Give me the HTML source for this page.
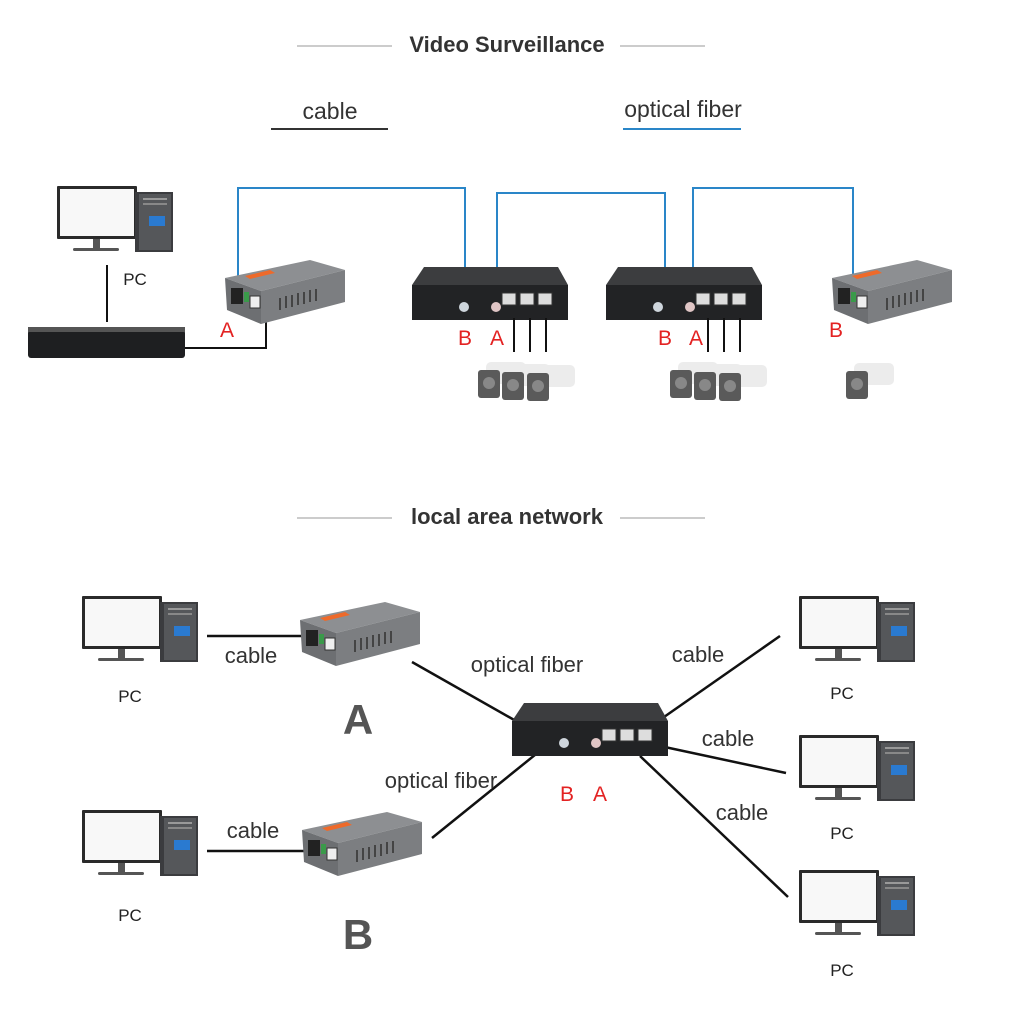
<!DOCTYPE html>
<html><head><meta charset="utf-8"><style>
html,body{margin:0;padding:0;background:#fff}
svg{display:block}
text{font-family:"Liberation Sans",Arial,sans-serif}
</style></head><body>
<svg width="1010" height="1010" viewBox="0 0 1010 1010" xmlns="http://www.w3.org/2000/svg">
<defs>
<g id="pc">
  <rect x="2" y="0" width="80" height="53" rx="1" fill="#2a2a2a"/>
  <rect x="5" y="3" width="74" height="47" fill="#f8f8f8"/>
  <rect x="38" y="53" width="7" height="10" fill="#555"/>
  <rect x="18" y="62" width="46" height="3" rx="1.5" fill="#555"/>
  <rect x="80" y="6" width="38" height="60" fill="#3b3c3f"/>
  <rect x="84" y="8" width="32" height="56" fill="#55575a"/>
  <rect x="94" y="30" width="16" height="10" fill="#2a7ad0"/>
  <rect x="88" y="12" width="24" height="2" fill="#999"/>
  <rect x="88" y="17" width="24" height="2" fill="#888"/>
</g>
<g id="conv">
  <polygon points="0,20 85,2 120,12 36,33" fill="#8d8f92"/>
  <polygon points="20,18 45,12 50,15 25,21" fill="#ee6a2a"/>
  <polygon points="0,20 36,33 36,66 2,52" fill="#6d6f72"/>
  <polygon points="36,33 120,12 120,44 36,66" fill="#7c7e81"/>
  <rect x="6" y="30" width="12" height="16" fill="#222"/>
  <rect x="19" y="34" width="5" height="10" fill="#3a9a4a"/>
  <rect x="25" y="38" width="10" height="12" fill="#eee" stroke="#333"/>
  <g stroke="#444" stroke-width="2">
    <line x1="55" y1="40" x2="55" y2="52"/><line x1="61" y1="38" x2="61" y2="50"/><line x1="67" y1="37" x2="67" y2="49"/><line x1="73" y1="35" x2="73" y2="47"/><line x1="79" y1="34" x2="79" y2="46"/><line x1="85" y1="32" x2="85" y2="44"/><line x1="91" y1="31" x2="91" y2="43"/>
  </g>
</g>
<g id="sw">
  <polygon points="12,0 146,0 156,18 0,18" fill="#3c3d3f"/>
  <rect x="0" y="18" width="156" height="35" fill="#222325"/>
  <rect x="90" y="26" width="14" height="12" fill="#ddd" stroke="#333"/>
  <rect x="108" y="26" width="14" height="12" fill="#ddd" stroke="#333"/>
  <rect x="126" y="26" width="14" height="12" fill="#ddd" stroke="#333"/>
  <circle cx="52" cy="40" r="5" fill="#cfd6dd"/>
  <circle cx="84" cy="40" r="5" fill="#e0c6c6"/>
</g>
<g id="cam">
  <rect x="8" y="0" width="40" height="22" rx="5" fill="#ececec"/>
  <rect x="0" y="8" width="22" height="28" rx="3" fill="#5a5a5a"/>
  <circle cx="11" cy="21" r="6" fill="#888"/>
</g>
</defs>

<line x1="297" y1="46" x2="392" y2="46" stroke="#999"/>
<line x1="620" y1="46" x2="705" y2="46" stroke="#999"/>
<text x="507" y="52" font-size="22" font-weight="bold" fill="#333" text-anchor="middle">Video Surveillance</text>
<text x="330" y="119" font-size="23" fill="#333" text-anchor="middle">cable</text>
<line x1="271" y1="129" x2="388" y2="129" stroke="#333" stroke-width="2"/>
<text x="683" y="117" font-size="23" fill="#333" text-anchor="middle">optical fiber</text>
<line x1="623" y1="129" x2="741" y2="129" stroke="#2a86c8" stroke-width="2"/>

<g fill="none" stroke="#2a86c8" stroke-width="2">
<polyline points="238,280 238,188 465,188 465,302"/>
<polyline points="497,302 497,193 665,193 665,302"/>
<polyline points="693,302 693,188 853,188 853,280"/>
</g>
<g fill="none" stroke="#111" stroke-width="2">
<line x1="107" y1="265" x2="107" y2="322"/>
<polyline points="185,348 266,348 266,316"/>
</g>

<use href="#pc" x="55" y="186"/>
<text x="135" y="285" font-size="17" fill="#222" text-anchor="middle">PC</text>
<rect x="28" y="330" width="157" height="28" rx="3" fill="#1e1f21"/>
<rect x="28" y="327" width="157" height="5" fill="#555"/>
<use href="#conv" x="225" y="258"/>
<use href="#sw" x="412" y="267"/>
<use href="#sw" x="606" y="267"/>
<use href="#conv" x="832" y="258"/>

<g stroke="#111" stroke-width="2">
<line x1="514" y1="318" x2="514" y2="352"/><line x1="530" y1="318" x2="530" y2="352"/><line x1="546" y1="318" x2="546" y2="352"/>
<line x1="708" y1="318" x2="708" y2="352"/><line x1="724" y1="318" x2="724" y2="352"/><line x1="740" y1="318" x2="740" y2="352"/>
</g>
<use href="#cam" x="478" y="362"/><use href="#cam" x="502" y="364"/><use href="#cam" x="527" y="365"/>
<use href="#cam" x="670" y="362"/><use href="#cam" x="694" y="364"/><use href="#cam" x="719" y="365"/>
<use href="#cam" x="846" y="363"/>

<g font-size="21" fill="#e32222" text-anchor="middle">
<text x="227" y="337">A</text>
<text x="465" y="345">B</text><text x="497" y="345">A</text>
<text x="665" y="345">B</text><text x="696" y="345">A</text>
<text x="836" y="337">B</text>
</g>

<line x1="297" y1="518" x2="392" y2="518" stroke="#999"/>
<line x1="620" y1="518" x2="705" y2="518" stroke="#999"/>
<text x="507" y="524" font-size="22" font-weight="bold" fill="#333" text-anchor="middle">local area network</text>

<use href="#pc" x="80" y="596"/>
<use href="#pc" x="80" y="810"/>
<use href="#pc" x="797" y="596"/>
<use href="#pc" x="797" y="735"/>
<use href="#pc" x="797" y="870"/>
<g font-size="17" fill="#222" text-anchor="middle">
<text x="130" y="702">PC</text><text x="130" y="921">PC</text>
<text x="842" y="699">PC</text><text x="842" y="839">PC</text><text x="842" y="976">PC</text>
</g>

<g stroke="#111" stroke-width="2.5" fill="none">
<line x1="207" y1="636" x2="302" y2="636"/>
<line x1="207" y1="851" x2="304" y2="851"/>
<line x1="412" y1="662" x2="560" y2="746"/>
<line x1="432" y1="838" x2="546" y2="746"/>
<line x1="654" y1="724" x2="780" y2="636"/>
<line x1="660" y1="746" x2="786" y2="773"/>
<line x1="640" y1="756" x2="788" y2="897"/>
</g>
<use href="#conv" x="300" y="600"/>
<use href="#conv" x="302" y="810"/>
<use href="#sw" x="512" y="703"/>

<g font-size="22" fill="#333" text-anchor="middle">
<text x="251" y="663">cable</text>
<text x="253" y="838">cable</text>
<text x="527" y="672">optical fiber</text>
<text x="441" y="788">optical fiber</text>
<text x="698" y="662">cable</text>
<text x="728" y="746">cable</text>
<text x="742" y="820">cable</text>
</g>
<g font-size="42" font-weight="bold" fill="#555" text-anchor="middle">
<text x="358" y="734">A</text><text x="358" y="949">B</text>
</g>
<g font-size="21" fill="#e32222" text-anchor="middle">
<text x="567" y="801">B</text><text x="600" y="801">A</text>
</g>
</svg>
</body></html>
